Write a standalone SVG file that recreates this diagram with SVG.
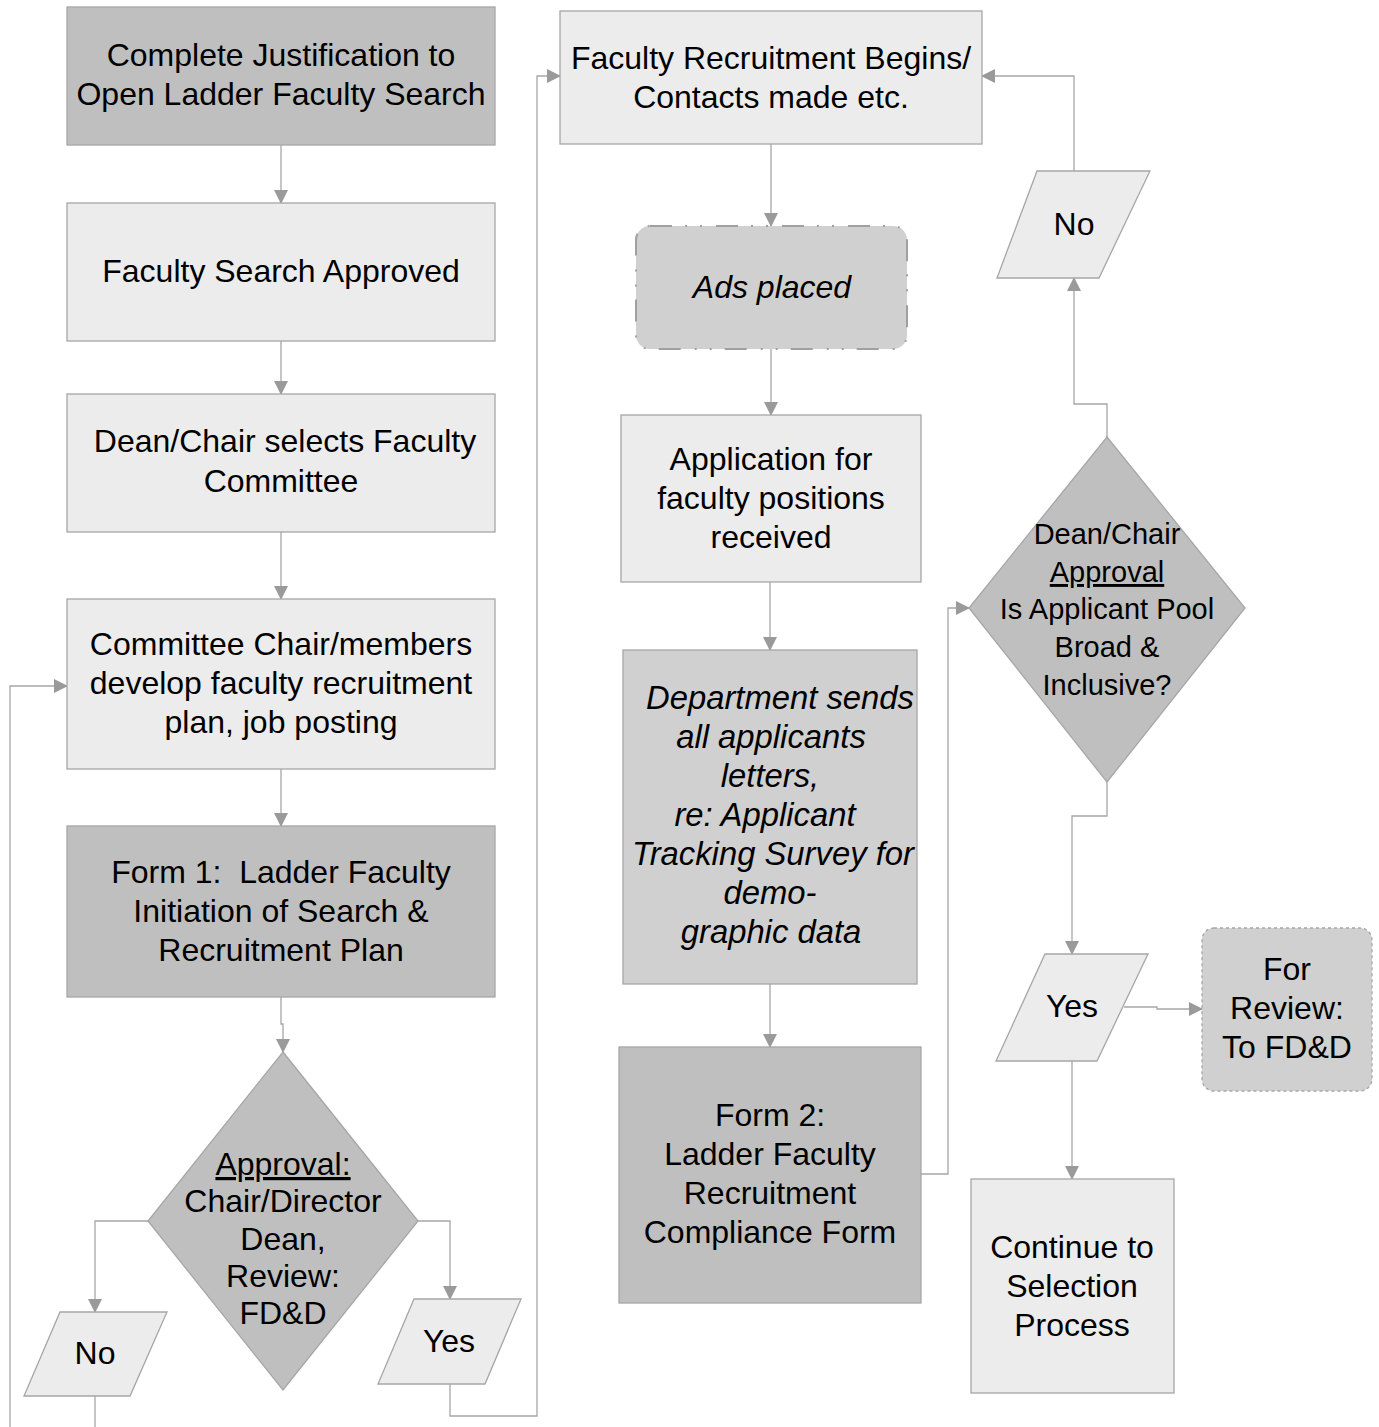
<svg xmlns="http://www.w3.org/2000/svg" width="1379" height="1427" viewBox="0 0 1379 1427">
<style>
.t{font-family:"Liberation Sans",Arial,sans-serif;font-size:32px;fill:#000;text-anchor:middle}
.s{font-size:29px}
.b{font-size:32.8px}
.i{font-style:italic}
.light{fill:#ececec;stroke:#a6a6a6;stroke-width:1.3}
.mid{fill:#d0d0d0;stroke:#a6a6a6;stroke-width:1.3}
.dark{fill:#bfbfbf;stroke:#a6a6a6;stroke-width:1.3}
.c{fill:none;stroke:#a6a6a6;stroke-width:1.3}
</style>
<defs>
<marker id="ah" markerWidth="14" markerHeight="14" refX="13" refY="7" orient="auto" markerUnits="userSpaceOnUse" viewBox="0 0 14 14">
<path d="M0,0 L14,7 L0,14 Z" fill="#9a9a9a"/>
</marker>
</defs>
<g id="connectors">
<path class="c" d="M281,145 V203" marker-end="url(#ah)"/>
<path class="c" d="M281,341 V394" marker-end="url(#ah)"/>
<path class="c" d="M281,532 V599" marker-end="url(#ah)"/>
<path class="c" d="M281,769 V826" marker-end="url(#ah)"/>
<path class="c" d="M281,997 V1024 H283 V1052" marker-end="url(#ah)"/>
<path class="c" d="M148,1221 H95 V1312" marker-end="url(#ah)"/>
<path class="c" d="M95,1396 V1440 H10 V686 H67" marker-end="url(#ah)"/>
<path class="c" d="M418,1221 H450 V1299" marker-end="url(#ah)"/>
<path class="c" d="M450,1384 V1416 H537 V76 H560" marker-end="url(#ah)"/>
<path class="c" d="M771,144 V226" marker-end="url(#ah)"/>
<path class="c" d="M771,349 V415" marker-end="url(#ah)"/>
<path class="c" d="M770,582 V650" marker-end="url(#ah)"/>
<path class="c" d="M770,984 V1047" marker-end="url(#ah)"/>
<path class="c" d="M921,1174 H948 V608 H969" marker-end="url(#ah)"/>
<path class="c" d="M1107,437 V404 H1074 V278" marker-end="url(#ah)"/>
<path class="c" d="M1074,171 V76 H982" marker-end="url(#ah)"/>
<path class="c" d="M1107,782 V816 H1072 V954" marker-end="url(#ah)"/>
<path class="c" d="M1124,1007 H1157 V1009 H1202" marker-end="url(#ah)"/>
<path class="c" d="M1072,1061 V1179" marker-end="url(#ah)"/>
</g>
<g id="n1">
<rect class="dark" x="67" y="7" width="428" height="138"/>
<text class="t" x="281" y="66">Complete Justification to</text>
<text class="t" x="281" y="105">Open Ladder Faculty Search</text>
</g>
<g id="n2">
<rect class="light" x="67" y="203" width="428" height="138"/>
<text class="t" x="281" y="282">Faculty Search Approved</text>
</g>
<g id="n3">
<rect class="light" x="67" y="394" width="428" height="138"/>
<text class="t" x="285" y="452">Dean/Chair selects Faculty</text>
<text class="t" x="281" y="492">Committee</text>
</g>
<g id="n4">
<rect class="light" x="67" y="599" width="428" height="170"/>
<text class="t" x="281" y="655">Committee Chair/members</text>
<text class="t" x="281" y="694">develop faculty recruitment</text>
<text class="t" x="281" y="733">plan, job posting</text>
</g>
<g id="n5">
<rect class="dark" x="67" y="826" width="428" height="171"/>
<text class="t" x="281" y="883" xml:space="preserve">Form 1:  Ladder Faculty</text>
<text class="t" x="281" y="922">Initiation of Search &amp;</text>
<text class="t" x="281" y="961">Recruitment Plan</text>
</g>
<g id="d1">
<polygon class="dark" points="283,1052 418,1221 283,1390 148,1221"/>
<text class="t" x="283" y="1175" text-decoration="underline">Approval:</text>
<text class="t" x="283" y="1212">Chair/Director</text>
<text class="t" x="283" y="1250">Dean,</text>
<text class="t" x="283" y="1287">Review:</text>
<text class="t" x="283" y="1324">FD&amp;D</text>
</g>
<g id="no1">
<polygon class="light" points="60,1312 167,1312 130,1396 24,1396"/>
<text class="t" x="95" y="1364">No</text>
</g>
<g id="yes1">
<polygon class="light" points="414,1299 521,1299 485,1384 378,1384"/>
<text class="t" x="449" y="1352">Yes</text>
</g>
<g id="n6">
<rect class="light" x="560" y="11" width="422" height="133"/>
<text class="t" x="771" y="69">Faculty Recruitment Begins/</text>
<text class="t" x="771" y="108">Contacts made etc.</text>
</g>
<g id="n7">
<rect x="636" y="226" width="271" height="123" rx="14" fill="#d0d0d0" stroke="#a0a0a0" stroke-width="2" stroke-dasharray="22,13,2,13,2,14"/>
<text class="t i" x="772" y="298">Ads placed</text>
</g>
<g id="n8">
<rect class="light" x="621" y="415" width="300" height="167"/>
<text class="t" x="771" y="470">Application for</text>
<text class="t" x="771" y="509">faculty positions</text>
<text class="t" x="771" y="548">received</text>
</g>
<g id="n9">
<rect class="mid" x="623" y="650" width="294" height="334"/>
<text class="t i b" x="780" y="709">Department sends</text>
<text class="t i b" x="771" y="748">all applicants</text>
<text class="t i b" x="770" y="787">letters,</text>
<text class="t i b" x="765" y="826">re: Applicant</text>
<text class="t i b" x="773" y="865">Tracking Survey for</text>
<text class="t i b" x="770" y="904">demo-</text>
<text class="t i b" x="771" y="943">graphic data</text>
</g>
<g id="n10">
<rect class="dark" x="619" y="1047" width="302" height="256"/>
<text class="t" x="770" y="1126">Form 2:</text>
<text class="t" x="770" y="1165">Ladder Faculty</text>
<text class="t" x="770" y="1204">Recruitment</text>
<text class="t" x="770" y="1243">Compliance Form</text>
</g>
<g id="d2">
<polygon class="dark" points="1107,437 1245,608 1107,782 969,608"/>
<text class="t s" x="1107" y="544">Dean/Chair</text>
<text class="t s" x="1107" y="582" text-decoration="underline">Approval</text>
<text class="t s" x="1107" y="619">Is Applicant Pool</text>
<text class="t s" x="1107" y="657">Broad &amp;</text>
<text class="t s" x="1107" y="695">Inclusive?</text>
</g>
<g id="no2">
<polygon class="light" points="1037,171 1150,171 1099,278 997,278"/>
<text class="t" x="1074" y="235">No</text>
</g>
<g id="yes2">
<polygon class="light" points="1045,954 1148,954 1097,1061 996,1061"/>
<text class="t" x="1072" y="1017">Yes</text>
</g>
<g id="n11">
<rect class="mid" x="1202" y="928" width="170" height="163" rx="12" stroke-dasharray="3,3"/>
<text class="t" x="1287" y="980">For</text>
<text class="t" x="1287" y="1019">Review:</text>
<text class="t" x="1287" y="1058">To FD&amp;D</text>
</g>
<g id="n12">
<rect class="light" x="971" y="1179" width="203" height="214"/>
<text class="t" x="1072" y="1258">Continue to</text>
<text class="t" x="1072" y="1297">Selection</text>
<text class="t" x="1072" y="1336">Process</text>
</g>
</svg>
